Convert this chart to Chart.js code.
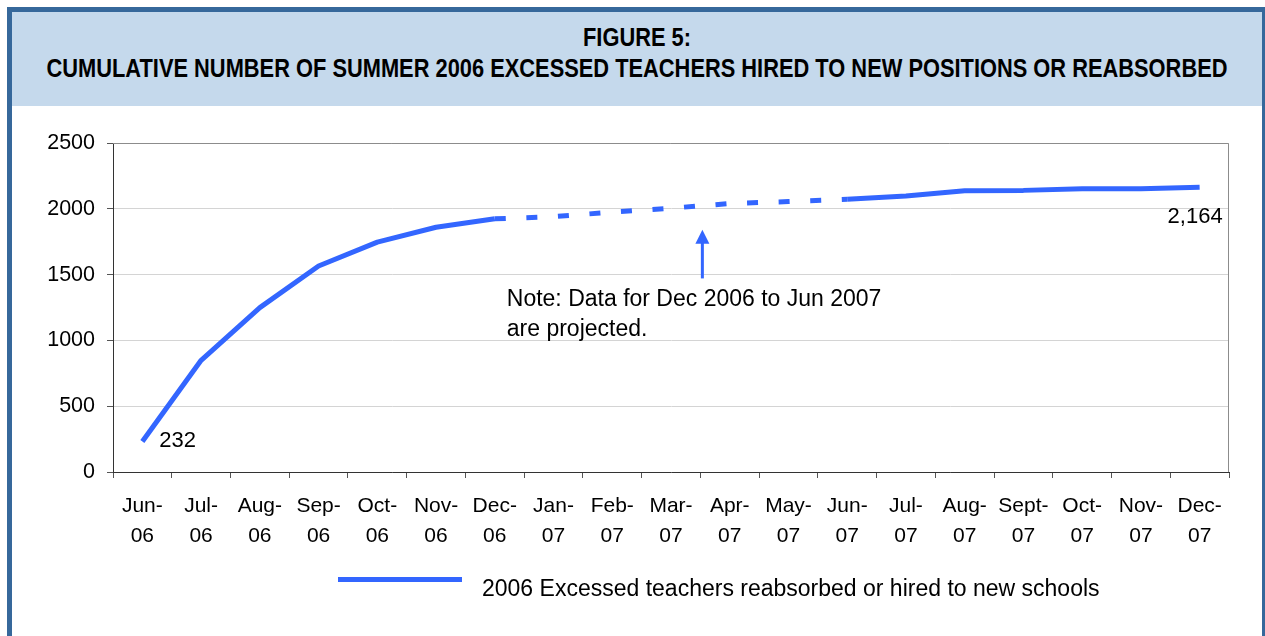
<!DOCTYPE html>
<html lang="en">
<head>
<meta charset="UTF-8">
<title>Figure 5</title>
<script src="https://cdn.jsdelivr.net/npm/chart.js"></script>
<style>
    body { margin: 0; width: 1265px; height: 636px; overflow: hidden; background: #fff; position: relative; }
    .moldura { position: absolute; left: 7px; top: 7px; width: 1260px; height: 640px; box-sizing: border-box;
        border: 5px solid #36689b; }
    .faixa_titulo { position: absolute; left: 0; top: 0; right: 0; height: 94px; background: #c5d9ec;
        font-family: "Liberation Sans", Arial, sans-serif;
        font-weight: bold; font-size: 25px; color: #000; }
    .faixa_titulo span { position: absolute; left: 50%; line-height: 31px; white-space: nowrap; transform-origin: center; }
    #grafico { position: absolute; left: 0; top: 0; }
</style>
</head>
<body>
    <div class="moldura">
        <div class="faixa_titulo">
            <span style="top: 10px;">FIGURE 5:</span>
            <span id="linha2" style="top: 41px;">CUMULATIVE NUMBER OF SUMMER 2006 EXCESSED TEACHERS HIRED TO NEW POSITIONS OR REABSORBED</span>
        </div>
    </div>
    <canvas id="grafico" width="1265" height="636"></canvas>

<script>
    // dados
    const meses = ['Jun-', 'Jul-', 'Aug-', 'Sep-', 'Oct-', 'Nov-', 'Dec-', 'Jan-', 'Feb-', 'Mar-', 'Apr-', 'May-',
        'Jun-', 'Jul-', 'Aug-', 'Sept-', 'Oct-', 'Nov-', 'Dec-'];
    const anos = ['06', '06', '06', '06', '06', '06', '06', '07', '07', '07', '07', '07',
        '07', '07', '07', '07', '07', '07', '07'];
    const professores = [232, 849, 1249, 1565, 1747, 1860, 1924, 1940, 1975, 2005, 2040, 2055,
        2072, 2097, 2137, 2140, 2153, 2153, 2164];
    const inicioProjecao = 6;   // Dec-06
    const fimProjecao = 12;     // Jun-07
    const ticksY = [0, 500, 1000, 1500, 2000, 2500];
    const nomeSerie = '2006 Excessed teachers reabsorbed or hired to new schools';
    const nota = ['Note: Data for Dec 2006 to Jun 2007', 'are projected.'];

    const azul = '#3366ff';
    const fonte = '"Liberation Sans", Arial, sans-serif';

    // o título original usa uma fonte estreita: comprime a fonte normal
    const larg = document.getElementById('linha2').getBoundingClientRect().width;
    const fator = 1181 / larg;
    document.querySelectorAll('.faixa_titulo span').forEach(s => s.style.transform = 'translateX(-50%) scaleX(' + fator + ')');

    const rotulos = meses.map((m, i) => [m, anos[i]]);

    const extras = {
        id: 'extras',
        beforeDatasetsDraw(chart) {
            const ctx = chart.ctx;
            const a = chart.chartArea;
            ctx.save();
            ctx.strokeStyle = '#8c8c8c';
            ctx.lineWidth = 1;
            ctx.beginPath();
            ctx.moveTo(a.left, a.top + 0.5);
            ctx.lineTo(a.right - 0.5, a.top + 0.5);
            ctx.lineTo(a.right - 0.5, a.bottom);
            ctx.stroke();
            ctx.restore();
        },
        afterDraw(chart) {
            const ctx = chart.ctx;
            const x = chart.scales.x;
            const y = chart.scales.y;
            ctx.save();
            ctx.fillStyle = '#000';
            ctx.font = '22px ' + fonte;

            // rótulos do primeiro e último ponto
            const ult = professores.length - 1;
            ctx.textAlign = 'left';
            ctx.fillText(professores[0].toLocaleString('en-US'),
                x.getPixelForValue(0) + 17, y.getPixelForValue(professores[0]) + 6);
            ctx.textAlign = 'right';
            ctx.fillText(professores[ult].toLocaleString('en-US'),
                x.getPixelForValue(ult) + 23, y.getPixelForValue(professores[ult]) + 36);

            // nota com seta
            ctx.font = '23px ' + fonte;
            ctx.textAlign = 'left';
            const xNota = x.getPixelForValue(inicioProjecao) + 12;
            ctx.fillText(nota[0], xNota, y.getPixelForValue(1259));
            ctx.fillText(nota[1], xNota, y.getPixelForValue(1031));

            const xSeta = (x.getPixelForValue(9) + x.getPixelForValue(10)) / 2 + 2;
            const ponta = y.getPixelForValue(1841);
            const base = y.getPixelForValue(1471);
            ctx.strokeStyle = azul;
            ctx.fillStyle = azul;
            ctx.lineWidth = 3;
            ctx.beginPath();
            ctx.moveTo(xSeta, base);
            ctx.lineTo(xSeta, ponta + 10);
            ctx.stroke();
            ctx.beginPath();
            ctx.moveTo(xSeta, ponta);
            ctx.lineTo(xSeta - 7, ponta + 14);
            ctx.lineTo(xSeta + 7, ponta + 14);
            ctx.closePath();
            ctx.fill();

            // legenda
            ctx.lineWidth = 5;
            ctx.beginPath();
            ctx.moveTo(338, 579.5);
            ctx.lineTo(462, 579.5);
            ctx.stroke();
            ctx.fillStyle = '#000';
            ctx.fillText(nomeSerie, 482, 596);
            ctx.restore();
        }
    };

    new Chart(document.getElementById('grafico'), {
        type: 'line',
        data: {
            labels: rotulos,
            datasets: [{
                label: nomeSerie,
                data: professores,
                borderColor: azul,
                borderWidth: 5,
                borderCapStyle: 'butt',
                borderJoinStyle: 'round',
                pointRadius: 0,
                tension: 0,
                segment: {
                    borderDash: c => (c.p0DataIndex >= inicioProjecao && c.p1DataIndex <= fimProjecao) ? [11, 20.6] : undefined
                }
            }]
        },
        options: {
            responsive: false,
            animation: false,
            devicePixelRatio: 1,
            layout: { padding: { left: 0, top: 143, right: 36, bottom: 0 } },
            plugins: {
                legend: { display: false },
                title: { display: false },
                tooltip: { enabled: false }
            },
            scales: {
                x: {
                    offset: true,
                    grid: { offset: true, drawOnChartArea: false, drawTicks: true, tickLength: 6, tickColor: '#555' },
                    border: { color: '#333', width: 1 },
                    ticks: { color: '#000', font: { family: fonte, size: 21, lineHeight: 1.43 }, padding: 13, maxRotation: 0, autoSkip: false },
                    afterFit(s) { s.height = 164; }
                },
                y: {
                    min: 0,
                    max: 2500,
                    afterBuildTicks(s) { s.ticks = ticksY.map(v => ({ value: v })); },
                    grid: { color: '#d4d4d4', tickColor: '#555', tickLength: 6 },
                    border: { color: '#333', width: 1 },
                    ticks: { color: '#000', font: { family: fonte, size: 21.5 }, padding: 12, callback: v => String(v) },
                    afterFit(s) { s.width = 113; }
                }
            }
        },
        plugins: [extras]
    });
</script>
</body>
</html>
